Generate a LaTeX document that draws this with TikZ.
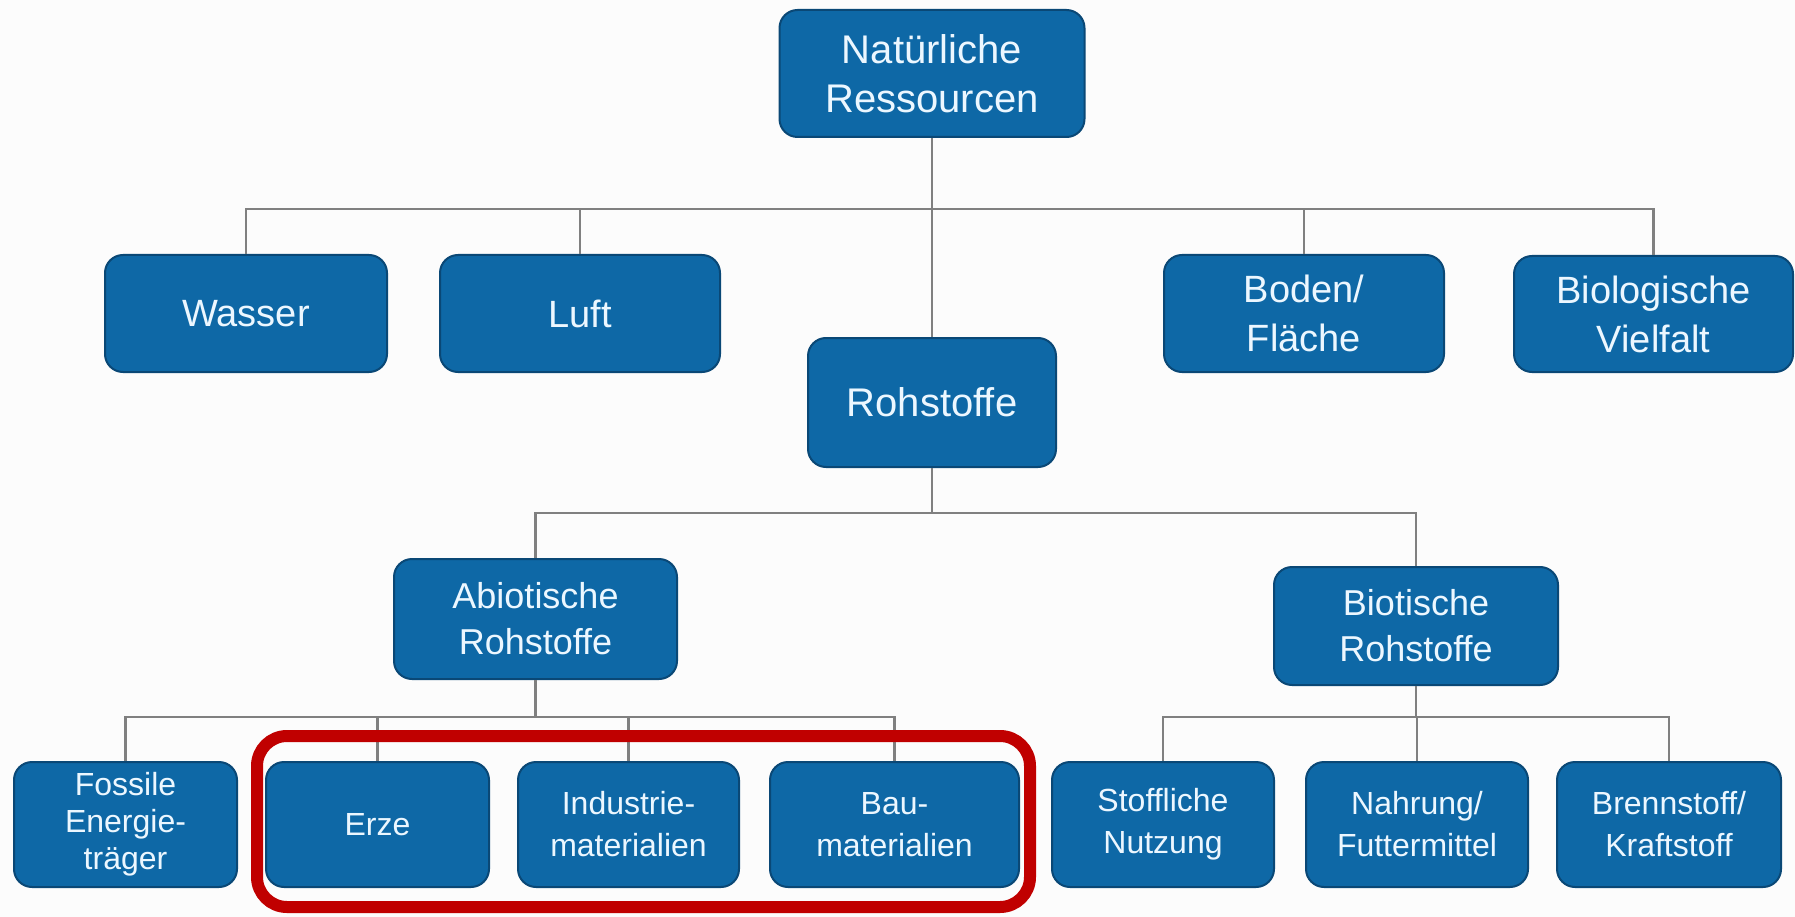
\documentclass[tikz,border=0pt]{standalone}
\usepackage{fontspec}
\setmainfont{Liberation Sans}
\definecolor{boxblue}{RGB}{14,104,166}
\definecolor{boxedge}{RGB}{10,72,118}
\definecolor{boxtext}{RGB}{236,247,255}
\definecolor{conn}{RGB}{128,128,128}
\definecolor{frame}{RGB}{192,0,0}
\definecolor{bg}{RGB}{252,252,252}
\tikzset{
  box/.style={draw=boxedge, line width=2pt, fill=boxblue, rounded corners=18pt,
    text=boxtext, align=center, inner sep=0pt},
  big/.style={box, font=\fontsize{40}{49}\selectfont},
  mid/.style={box, font=\fontsize{38}{49}\selectfont},
  sub/.style={box, font=\fontsize{36}{46}\selectfont},
  small/.style={box, font=\fontsize{32}{42}\selectfont},
  tiny/.style={box, font=\fontsize{32}{37}\selectfont},
  link/.style={draw=conn, line width=2.5pt},
  redframe/.style={draw=frame, line width=12pt, rounded corners=30pt}
}
\begin{document}
\begin{tikzpicture}[x=1pt,y=-1pt]
\useasboundingbox[fill=bg] (0,0) rectangle (1795,917);
% level 0
\node[big, minimum width=305pt, minimum height=127pt] (nat) at (932,73.5) {Natürliche\\Ressourcen};
% level 1
\node[mid, minimum width=282pt, minimum height=117pt] (wasser) at (246,313.5) {Wasser};
\node[mid, minimum width=280pt, minimum height=117pt] (luft) at (580,313.5) {Luft};
\node[mid, minimum width=280pt, minimum height=117pt] (boden) at (1304,313.5) {Boden/\\Fläche};
\node[mid, minimum width=279pt, minimum height=116pt] (bio) at (1653.5,314) {Biologische\\Vielfalt};
\node[big, minimum width=248pt, minimum height=129pt] (roh) at (932,402.5) {Rohstoffe};
% level 2
\node[sub, minimum width=283pt, minimum height=120pt] (abio) at (535.5,619) {Abiotische\\Rohstoffe};
\node[sub, minimum width=284pt, minimum height=118pt] (biot) at (1416,626) {Biotische\\Rohstoffe};
% level 3
\node[tiny, minimum width=223pt, minimum height=125pt] (fossil) at (125.5,824.5) {Fossile\\Energie-\\träger};
\node[small, minimum width=223pt, minimum height=125pt] (erze) at (377.5,824.5) {Erze};
\node[small, minimum width=221pt, minimum height=125pt] (indu) at (628.5,824.5) {Industrie-\\materialien};
\node[small, minimum width=249pt, minimum height=125pt] (bau) at (894.5,824.5) {Bau-\\materialien};
\node[small, minimum width=222pt, minimum height=125pt] (stoff) at (1163,824.5) {Stoffliche\\Nutzung};
\node[small, minimum width=222pt, minimum height=125pt] (nahr) at (1417,824.5) {Nahrung/\\Futtermittel};
\node[small, minimum width=224pt, minimum height=125pt] (brenn) at (1669,824.5) {Brennstoff/\\Kraftstoff};
% bus levels
\coordinate (busA) at (0,209);
\coordinate (busB) at (0,513);
\coordinate (busC) at (0,717);
% connectors
\path[link] (nat.south) -- (roh.north);
\path[link] (wasser.north) |- (bio.north |- busA) -- (bio.north);
\path[link] (luft.north) -- (luft.north |- busA);
\path[link] (boden.north) -- (boden.north |- busA);
\path[link] (roh.south) -- (roh.south |- busB);
\path[link] (abio.north) |- (biot.north |- busB) -- (biot.north);
\path[link] (abio.south) -- (abio.south |- busC);
\path[link] (fossil.north) |- (bau.north |- busC) -- (bau.north);
\path[link] (erze.north) -- (erze.north |- busC);
\path[link] (indu.north) -- (indu.north |- busC);
\path[link] (biot.south) -- (biot.south |- busC);
\path[link] (stoff.north) |- (brenn.north |- busC) -- (brenn.north);
\path[link] (nahr.north) -- (nahr.north |- busC);
% highlight frame
\draw[redframe] (257,736) rectangle (1030,907);
\end{tikzpicture}
\end{document}
